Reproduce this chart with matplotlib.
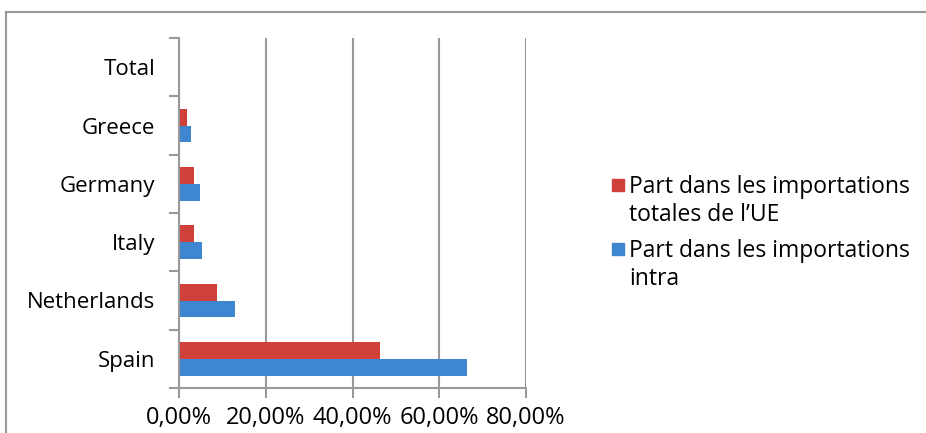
import matplotlib.pyplot as plt
import numpy as np
from matplotlib.lines import Line2D
from matplotlib.patches import Rectangle

plt.rcParams['font.family'] = ['Open Sans', 'DejaVu Sans']

countries = ["Spain", "Netherlands", "Italy", "Germany", "Greece", "Total"]
part_totale = [46.3, 8.8, 3.5, 3.5, 1.8, 0.0]
part_intra = [66.4, 12.9, 5.3, 4.9, 2.8, 0.0]
legend_labels = ["Part dans les importations\ntotales de l\u2019UE",
                 "Part dans les importations\nintra"]

red = "#d0403b"
blue = "#3f86d1"
fs = 16

fig = plt.figure(figsize=(9.26, 4.33), dpi=100)
ax = fig.add_axes([179 / 926, 1 - 388 / 433, (526 - 179) / 926, 350 / 433])

y = np.arange(len(countries))
h = 0.29
ax.barh(y + h / 2, part_totale, height=h, color=red)
ax.barh(y - h / 2, part_intra, height=h, color=blue)

ax.set_xlim(0, 80)
ax.set_ylim(-0.5, len(countries) - 0.5)
ax.set_xticks([0, 20, 40, 60, 80])
ax.set_xticklabels(["0,00%", "20,00%", "40,00%", "60,00%", "80,00%"], fontsize=17)
ax.set_yticks(y)
ax.set_yticklabels(countries, fontsize=fs)
ax.set_yticks(np.arange(-0.5, len(countries)), minor=True)
ax.tick_params(axis='y', which='major', length=0, pad=17)
ax.tick_params(axis='y', which='minor', length=7, color="#999999", width=1.5, direction='out')
ax.tick_params(axis='x', length=7, color="#999999", width=1.5, pad=6)

ax.grid(axis='x', color="#999999", linewidth=1.5)
ax.set_axisbelow(True)
for s in ["top", "right"]:
    ax.spines[s].set_visible(False)
for s in ["left", "bottom"]:
    ax.spines[s].set_color("#999999")
    ax.spines[s].set_linewidth(1.5)

# legend: square beside the first line of each label
for i, (lab, col) in enumerate(zip(legend_labels, [red, blue])):
    top = 1 - (179 + i * 64) / 433
    fig.add_artist(Rectangle((612 / 926, top - 12 / 433), 12 / 926, 12 / 433,
                             color=col, transform=fig.transFigure))
    fig.text(629 / 926, top + 4 / 433, lab, fontsize=16.5, va="top", ha="left",
             linespacing=1.2)

# outer chart frame
fig.add_artist(Line2D([6 / 926, 6 / 926], [0, 1 - 12 / 433], color="#999999", linewidth=1.5))
fig.add_artist(Line2D([6 / 926, 1], [1 - 12 / 433, 1 - 12 / 433], color="#999999", linewidth=1.5))

fig.savefig("out.png", dpi=100)
